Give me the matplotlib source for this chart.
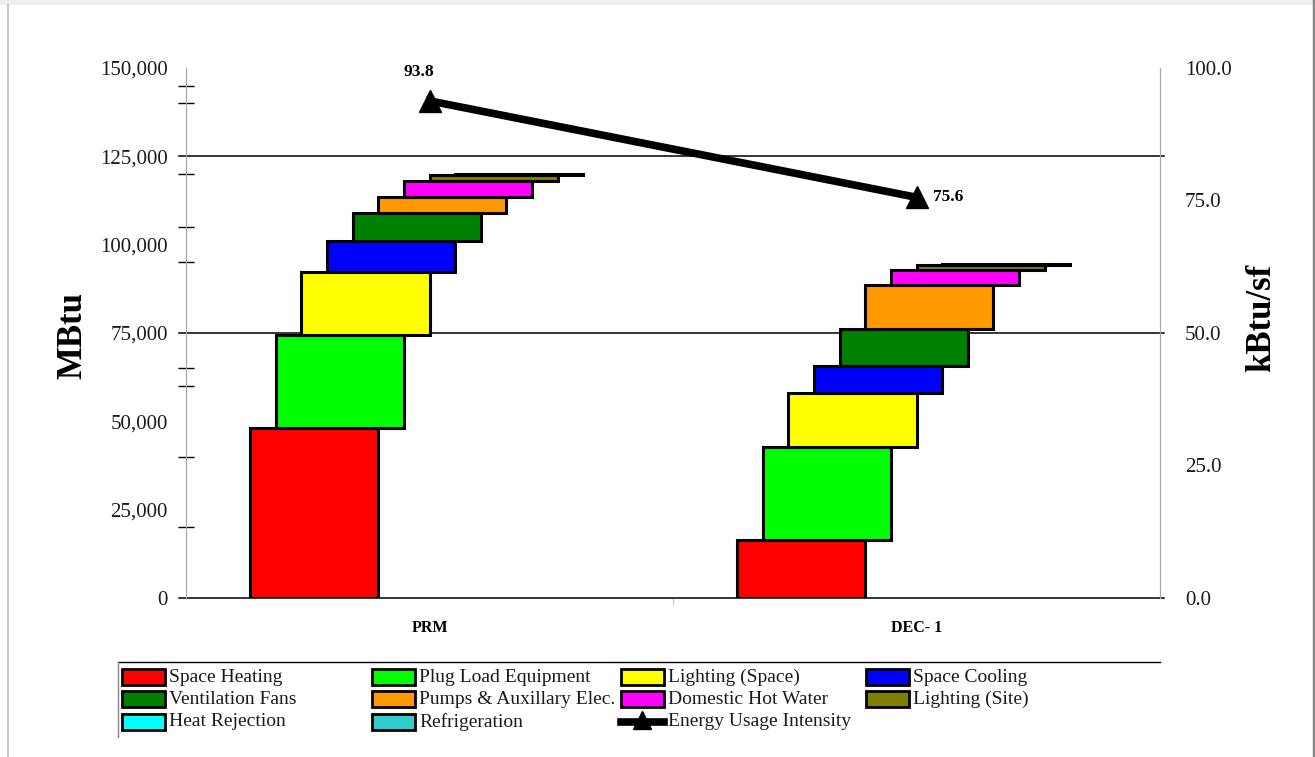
import matplotlib
matplotlib.use("Agg")
import matplotlib.pyplot as plt
from matplotlib.patches import Rectangle
from matplotlib.lines import Line2D
from matplotlib.ticker import FuncFormatter

plt.rcParams['font.family'] = ['Liberation Serif', 'DejaVu Serif']

# end-use breakdown, MBtu
cases = ['PRM', 'DEC- 1']
enduses = ['Space Heating', 'Plug Load Equipment', 'Lighting (Space)', 'Space Cooling',
           'Ventilation Fans', 'Pumps & Auxillary Elec.', 'Domestic Hot Water',
           'Lighting (Site)', 'Heat Rejection', 'Refrigeration']
prm = [48100, 26300, 18000, 8500, 8100, 4500, 4500, 1600, 300, 0]
dec1 = [16400, 26300, 15300, 7600, 10500, 12500, 4200, 1400, 200, 0]
colors = ['#FF0000', '#00FF00', '#FFFF00', '#0000FF', '#008000',
          '#FF9900', '#FF00FF', '#808000', '#00FFFF', '#33CCCC']

# energy usage intensity, kBtu/sf
eui = [93.8, 75.6]

W, H = 1315, 757
fig = plt.figure(figsize=(W / 100, H / 100), dpi=100)
ax = fig.add_axes([186 / W, 1 - 598 / H, (1160 - 186) / W, (598 - 68) / H])
ax2 = ax.twinx()

step = 0.0526
bw = 0.263
n = len(enduses)
for c, vals in enumerate([prm, dec1]):
    base = 0
    for i, v in enumerate(vals):
        if v > 0:
            ax.bar(c + (i - (n - 1) / 2) * step, v, bw, bottom=base,
                   color=colors[i], edgecolor='black', linewidth=2.2, zorder=3)
        base += v

ax.set_xlim(-0.5, 1.5)
ax.set_ylim(0, 150000)
ax2.set_ylim(0, 100)

# horizontal rules + baseline
for y in [0, 75000, 125000]:
    ax.axhline(y, xmin=-0.007, xmax=1.004, color='black', lw=1.1, clip_on=False, zorder=2)

for a in (ax, ax2):
    a.spines['top'].set_visible(False)
    a.spines['bottom'].set_visible(False)
    a.spines['left'].set_color('#A8A8A8')
    a.spines['right'].set_color('#A8A8A8')

ax.set_yticks(range(0, 150001, 25000))
ax.yaxis.set_major_formatter(FuncFormatter(lambda v, p: f'{int(v):,}'))
ax.set_yticks([20000, 40000, 60000, 65000, 95000, 105000, 120000, 140000, 145000], minor=True)
ax.tick_params(axis='y', which='major', length=0, pad=13, labelsize=15, labelcolor='#1A1A1A')
ax.tick_params(axis='y', which='minor', length=11, width=1, direction='inout', color='black')

ax2.set_yticks(range(0, 101, 25))
ax2.yaxis.set_major_formatter(FuncFormatter(lambda v, p: f'{v:.1f}'))
ax2.set_yticks([0, 25], minor=True)
ax2.tick_params(axis='y', which='major', length=0, pad=18, labelsize=15, labelcolor='#1A1A1A')
ax2.tick_params(axis='y', which='minor', length=12, width=1, direction='inout', color='black')

ax.set_xticks([0, 1])
ax.set_xticklabels(cases, fontsize=11.5, fontweight='bold')
ax.set_xticks([0.5], minor=True)
ax.tick_params(axis='x', which='major', length=0, pad=16)
ax.tick_params(axis='x', which='minor', length=5, color='#BBBBBB')

# EUI line on secondary axis
ax2.plot([0, 1], eui, color='black', lw=5.5, marker='^', markersize=16, zorder=5)
ax2.annotate(f'{eui[0]:.1f}', (0, eui[0]), xytext=(-8, 21), textcoords='offset points',
             ha='center', va='center', fontsize=12.5, fontweight='bold')
ax2.annotate(f'{eui[1]:.1f}', (1, eui[1]), xytext=(12, 0), textcoords='offset points',
             ha='left', va='center', fontsize=12.5, fontweight='bold')

fig.text(73 / W, 1 - 335 / H, 'MBtu', rotation=90, ha='center', va='center',
         fontsize=25, fontweight='bold')
fig.text(1262 / W, 1 - 318 / H, 'kBtu/sf', rotation=90, ha='center', va='center',
         fontsize=25, fontweight='bold')

# legend, laid out in 4 columns
colx = [122, 372, 621, 866]
rowy = [677, 699, 722]
entries = enduses + ['Energy Usage Intensity']
for k, lab in enumerate(entries):
    r, c = divmod(k, 4)
    x0, yc = colx[c], rowy[r]
    if k < n:
        fig.add_artist(Rectangle((x0 / W, 1 - (yc + 8) / H), 43 / W, 16 / H,
                                 transform=fig.transFigure, facecolor=colors[k],
                                 edgecolor='black', linewidth=2))
    else:
        fig.add_artist(Line2D([x0 / W, (x0 + 43) / W], [1 - yc / H] * 2, color='black', lw=5.5,
                              transform=fig.transFigure))
        fig.add_artist(Line2D([(x0 + 21) / W], [1 - (yc - 2) / H], marker='^', markersize=13,
                              color='black', transform=fig.transFigure))
    fig.text((x0 + 47) / W, 1 - yc / H, lab, ha='left', va='center', fontsize=14,
             color='#1A1A1A')

fig.add_artist(Line2D([118 / W, 1160 / W], [1 - 662 / H] * 2, color='black', lw=1,
                      transform=fig.transFigure))
fig.add_artist(Line2D([118 / W] * 2, [1 - 662 / H, 1 - 737 / H], color='#888888', lw=1,
                      transform=fig.transFigure))

# window frame
fig.add_artist(Rectangle((0, 1 - 5 / H), 1, 5 / H, transform=fig.transFigure,
                         facecolor='#EEEEEE', edgecolor='none'))
fig.add_artist(Line2D([7.5 / W] * 2, [0, 1 - 5 / H], color='#CCCCCC', lw=1.5,
                      transform=fig.transFigure))
fig.add_artist(Line2D([1313.5 / W] * 2, [0, 1], color='#888888', lw=2.5,
                      transform=fig.transFigure))

fig.savefig('out.png', dpi=100)
